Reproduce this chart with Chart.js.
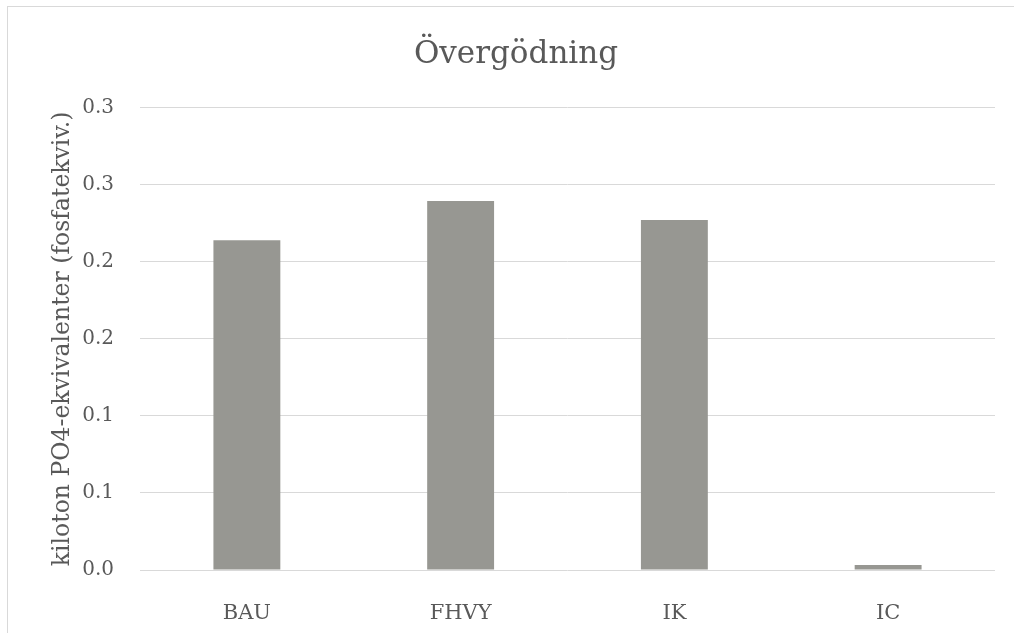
<!DOCTYPE html>
<html>
<head>
<meta charset="utf-8">
<script src="https://cdn.jsdelivr.net/npm/chart.js@4.4.1/dist/chart.umd.min.js"></script>
<style>
  html, body { margin: 0; padding: 0; background: #fff; }
  #frame {
    position: absolute; left: 7px; top: 6px; width: 1100px; height: 700px;
    border: 1px solid #d9d9d9;
  }
  #wrap { position: absolute; left: 0; top: 0; width: 1014px; height: 633px; }
</style>
</head>
<body>
<div id="frame"></div>
<div id="wrap"><canvas id="EutroChart"></canvas></div>
<script>
const categories = ['BAU', 'FHVY', 'IK', 'IC'];
const eutroValues = [0.214, 0.2394, 0.2271, 0.0032];
const yTicks = [0, 0.05, 0.1, 0.15, 0.2, 0.25, 0.3];

const serif = '"DejaVu Serif", serif';
const textColor = '#595959';
const gridColor = '#d9d9d9';

const ctx = document.getElementById('EutroChart');

new Chart(ctx, {
    type: 'bar',
    data: {
        labels: categories,
        datasets: [{
            label: 'Övergödning',
            data: eutroValues,
            backgroundColor: '#979792',
            borderWidth: 0,
            categoryPercentage: 1,
            barPercentage: 0.313
        }]
    },
    options: {
        responsive: true,
        maintainAspectRatio: false,
        animation: false,
        // left padding keeps the title centred on the framed box
        layout: { padding: { left: 37, right: 19, top: 0, bottom: 0 } },
        plugins: {
            legend: { display: false },
            tooltip: { enabled: false },
            title: {
                display: true,
                text: 'Övergödning',
                color: textColor,
                font: { family: serif, size: 31, weight: 'normal', lineHeight: 1.2 },
                padding: { top: 36, bottom: 34.5 }
            }
        },
        scales: {
            x: {
                grid: { display: false },
                border: { display: false },
                ticks: {
                    color: textColor,
                    font: { family: serif, size: 21 },
                    padding: 23,
                    maxRotation: 0
                },
                afterFit: (scale) => { scale.height = 63; }
            },
            y: {
                min: 0,
                max: 0.3,
                border: { display: false },
                grid: { color: gridColor, lineWidth: 1, drawTicks: false },
                afterBuildTicks: (scale) => {
                    scale.ticks = yTicks.map(v => ({ value: v }));
                },
                ticks: {
                    color: textColor,
                    font: { family: serif, size: 20 },
                    padding: 26,
                    callback: (v) => (Math.round(v * 10 + 1e-6) / 10).toFixed(1)
                },
                title: {
                    display: true,
                    text: 'kiloton PO4-ekvivalenter (fosfatekviv.)',
                    color: textColor,
                    font: { family: serif, size: 23.5, weight: 'normal', lineHeight: 1.2 },
                    padding: { top: 12, bottom: 0 }
                },
                afterFit: (scale) => { scale.width = 103; }
            }
        }
    }
});
</script>
</body>
</html>
